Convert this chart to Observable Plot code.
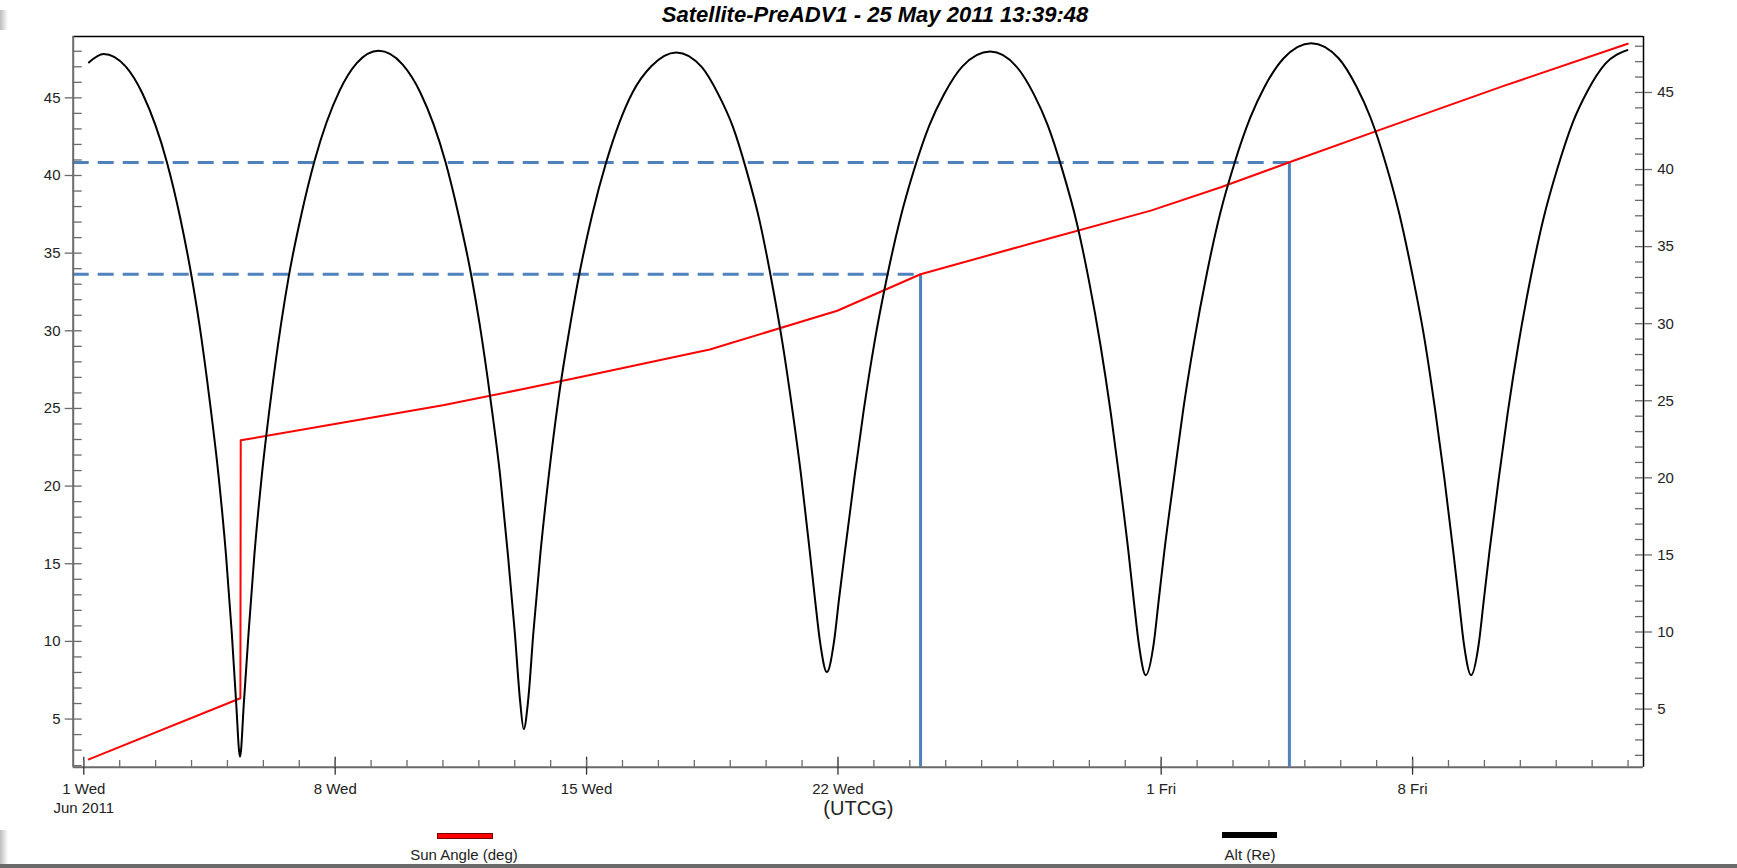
<!DOCTYPE html>
<html>
<head>
<meta charset="utf-8">
<script src="https://cdn.jsdelivr.net/npm/d3@7"></script>
<script src="https://cdn.jsdelivr.net/npm/@observablehq/plot@0.6"></script>
<style>
html,body{margin:0;padding:0;background:#fff;}
body{width:1737px;height:868px;position:relative;overflow:hidden;font-family:"Liberation Sans",Arial,sans-serif;}
#title{position:absolute;top:1px;left:875px;transform:translateX(-50%);font-weight:bold;font-style:italic;font-size:22px;line-height:28px;white-space:nowrap;color:#000;}
#chart{position:absolute;top:30px;left:0;}
#legend{position:absolute;top:830px;left:0;width:1737px;height:38px;}
.sw{position:absolute;box-sizing:border-box;}
.lt{position:absolute;transform:translateX(-50%);font-size:15px;color:#222;white-space:nowrap;}
#shadowL{position:absolute;left:0;top:10px;width:8px;height:858px;background:linear-gradient(to right,#bdbdbd,#ffffff);}
#shadowB{position:absolute;left:0;top:864px;width:1737px;height:4px;background:#6a6a6a;}
</style>
</head>
<body>
<div id="shadowL"></div>
<div id="title">Satellite-PreADV1 - 25 May 2011 13:39:48</div>
<div id="chart"></div>
<div id="legend"></div>
<div id="shadowB"></div>
<script>
// ---- data (days since 1 Jun 2011 00:00 UTCG) ----
const sunDay   = [0.14, 4.36, 4.37, 7.03, 10.0, 12.34, 14.0, 17.43, 20.98, 23.30, 26.5, 29.71, 31.66, 33.57, 36.03, 39.5, 42.99];
const sunAngle = [2.40, 6.34, 22.95, 24.01, 25.2, 26.30, 27.1, 28.8, 31.29, 33.64, 35.7, 37.74, 39.24, 40.85, 42.89, 45.74, 48.48];

const altDay = [0.14, 0.55, 1.17, 1.64, 2.32, 2.68, 3.01, 3.22, 3.51, 3.76, 3.96, 4.12, 4.24, 4.35,
  4.46, 4.59, 4.75, 4.95, 5.20, 5.50, 5.71, 6.06, 6.43, 7.12, 7.60, 8.21,
  8.88, 9.37, 10.07, 10.44, 10.80, 11.02, 11.33, 11.60, 11.81, 12.00, 12.15, 12.25,
  12.37, 12.52, 12.71, 12.94, 13.21, 13.55, 13.78, 14.15, 14.55, 15.28, 15.80, 16.50,
  17.21, 17.68, 18.06, 18.46, 18.81, 19.14, 19.46, 19.74, 19.98, 20.21, 20.36, 20.50, 20.69,
  20.89, 21.03, 21.20, 21.46, 21.71, 22.01, 22.36, 22.73, 23.11, 23.55, 23.95, 24.46, 25.24,
  25.97, 26.46, 26.84, 27.26, 27.63, 27.98, 28.31, 28.60, 28.84, 29.09, 29.24, 29.38, 29.57,
  29.79, 29.93, 30.09, 30.36, 30.61, 30.92, 31.27, 31.64, 32.03, 32.48, 32.88, 33.41, 34.18,
  34.94, 35.44, 35.83, 36.26, 36.63, 36.99, 37.34, 37.63, 37.88, 38.13, 38.29, 38.43, 38.63,
  38.84, 38.98, 39.14, 39.40, 39.65, 39.95, 40.29, 40.65, 41.03, 41.46, 41.86, 42.37, 42.98];
const altRe = [46.95, 47.5, 46.68, 44.9, 40.43, 36.92, 32.95, 29.94, 24.93, 19.96, 14.99, 9.97, 5.5, 1.9,
  5.5, 10.0, 15.0, 20.0, 25.0, 30.1, 33.1, 37.1, 40.6, 45.1, 46.9, 47.7,
  46.8, 45.0, 40.5, 37.0, 33.0, 30.0, 25.0, 20.0, 15.0, 10.0, 5.5, 3.7,
  5.5, 10.0, 15.0, 20.0, 25.0, 30.0, 33.0, 37.0, 40.5, 45.0, 46.7, 47.6,
  46.64, 44.83, 42.86, 39.88, 36.75, 32.93, 28.67, 24.24, 20.02, 15.32, 12.14, 9.37, 7.4,
  9.37, 12.15, 15.33, 20.04, 24.26, 28.69, 32.96, 36.78, 39.92, 42.90, 44.87, 46.68, 47.65,
  46.68, 44.86, 42.88, 39.88, 36.73, 32.89, 28.60, 24.15, 19.90, 15.17, 11.97, 9.18, 7.2,
  9.21, 12.04, 15.28, 20.07, 24.38, 28.89, 33.24, 37.13, 40.33, 43.36, 45.37, 47.22, 48.2,
  47.22, 45.37, 43.36, 40.33, 37.13, 33.24, 28.89, 24.38, 20.07, 15.28, 12.04, 9.21, 7.2,
  9.19, 12.00, 15.21, 19.96, 24.23, 28.70, 33.01, 36.87, 40.05, 43.05, 45.05, 46.87, 47.75];

const markerDay   = [23.30, 33.57];
const markerAngle = [33.64, 40.83];

const majorTickDay   = [0, 7, 14, 21, 30, 37];
const majorTickLabel = ["1 Wed\nJun 2011", "8 Wed", "15 Wed", "22 Wed", "1 Fri", "8 Fri"];
const leftTicks  = [5, 10, 15, 20, 25, 30, 35, 40, 45];
const rightTicks = [5, 10, 15, 20, 25, 30, 35, 40, 45];

// ---- layout / scales ----
const epoch = Date.UTC(2011, 5, 1);
const toDate = d => new Date(epoch + d * 864e5);
const xDomainDays = [-0.295, 43.43];
const leftDomain  = [1.9, 48.95];
const rightDomain = [1.23, 48.63];
const toLeft  = d3.scaleLinear().domain(rightDomain).range(leftDomain);
const toRight = toLeft.copy().domain(leftDomain).range(rightDomain);

const W = 1737, H = 800, mL = 72.7, mR = 94, mT = 6, mB = 63.3;
const frameW = W - mL - mR, frameH = H - mT - mB;

const sunData = sunDay.map((d, i) => ({date: toDate(d), value: sunAngle[i]}));
const altData = altDay.map((d, i) => ({date: toDate(d), value: toLeft(altRe[i])}));
const markers = markerDay.map((d, i) => ({date: toDate(d), value: markerAngle[i]}));
const labelMap = new Map(majorTickDay.map((d, i) => [+toDate(d), majorTickLabel[i]]));
const majorDates = majorTickDay.map(toDate);
const dailyDates = d3.range(0, 44).map(toDate);
const minorInts = d3.range(2, 49);
const x0 = toDate(xDomainDays[0]), x1 = toDate(xDomainDays[1]);
const blue = "#4F81BD", axisGray = "#6a6a6a";

const chart = Plot.plot({
  width: W, height: H,
  marginLeft: mL, marginRight: mR, marginTop: mT, marginBottom: mB,
  style: {fontFamily: "'Liberation Sans', Arial, sans-serif", fontSize: "15px", background: "white", overflow: "visible"},
  x: {type: "utc", domain: [x0, x1]},
  y: {domain: leftDomain},
  marks: [
    // blue marker lines
    Plot.ruleY(markers, {y: "value", x1: () => x0, x2: "date", stroke: blue, strokeWidth: 3, strokeDasharray: "16,9"}),
    Plot.ruleX(markers, {x: "date", y1: () => leftDomain[0], y2: "value", stroke: blue, strokeWidth: 3}),
    // series
    Plot.line(sunData, {x: "date", y: "value", stroke: "#ff0000", strokeWidth: 2}),
    Plot.line(altData, {x: "date", y: "value", stroke: "#000", strokeWidth: 2, curve: "monotone-x"}),
    // frame lines
    Plot.ruleY([leftDomain[1]], {stroke: "#000", strokeWidth: 1.5}),
    Plot.ruleX([x1], {stroke: "#000", strokeWidth: 1.5}),
    Plot.ruleX([x0], {stroke: axisGray, strokeWidth: 2}),
    Plot.ruleY([leftDomain[0]], {stroke: axisGray, strokeWidth: 2}),
    // left axis
    Plot.axisY(leftTicks, {anchor: "left", tickSize: 8, tickPadding: 4.7, stroke: axisGray, fill: "#222", fontSize: 15, label: null, strokeWidth: 1.3}),
    Plot.tickY(minorInts, {y: d => d, insetRight: frameW - 9, stroke: axisGray, strokeWidth: 1.3}),
    // right axis
    Plot.axisY(rightTicks.map(toLeft), {anchor: "right", tickSize: 8, tickPadding: 5.7, stroke: axisGray, fill: "#222", fontSize: 15, label: null, strokeWidth: 1.3,
      tickFormat: d => String(Math.round(toRight(d)))}),
    Plot.tickY(minorInts.map(toLeft), {y: d => d, insetLeft: frameW - 8, stroke: axisGray, strokeWidth: 1.3}),
    // x axis
    Plot.axisX(majorDates, {anchor: "bottom", tickSize: 8, tickPadding: 5.3, stroke: "#333", fill: "#222", fontSize: 15, lineHeight: 1.27, label: null, strokeWidth: 1.3,
      tickFormat: d => labelMap.get(+d)}),
    Plot.tickX(majorDates, {x: d => d, insetTop: frameH - 10, stroke: "#333", strokeWidth: 1.3}),
    Plot.tickX(dailyDates, {x: d => d, insetTop: frameH - 6.7, stroke: axisGray, strokeWidth: 1.3}),
    Plot.text(["(UTCG)"], {frameAnchor: "bottom", dy: 48, text: d => d, fontSize: 20, fill: "#222"})
  ]
});
document.getElementById("chart").appendChild(chart);

// ---- legend ----
const legendItems = [
  {label: "Sun Angle (deg)", color: "#ff0000", border: "#7a0000", left: 437, width: 56, top: 2.5, textX: 464},
  {label: "Alt (Re)", color: "#000000", border: "#000000", left: 1222, width: 55, top: 1.5, textX: 1250}
];
const lg = document.getElementById("legend");
for (const it of legendItems) {
  const sw = document.createElement("div");
  sw.className = "sw";
  Object.assign(sw.style, {left: it.left + "px", top: it.top + "px", width: it.width + "px", height: "6px", background: it.color, border: "1px solid " + it.border});
  lg.appendChild(sw);
  const t = document.createElement("div");
  t.className = "lt";
  t.textContent = it.label;
  Object.assign(t.style, {left: it.textX + "px", top: "16px"});
  lg.appendChild(t);
}
</script>
</body>
</html>
